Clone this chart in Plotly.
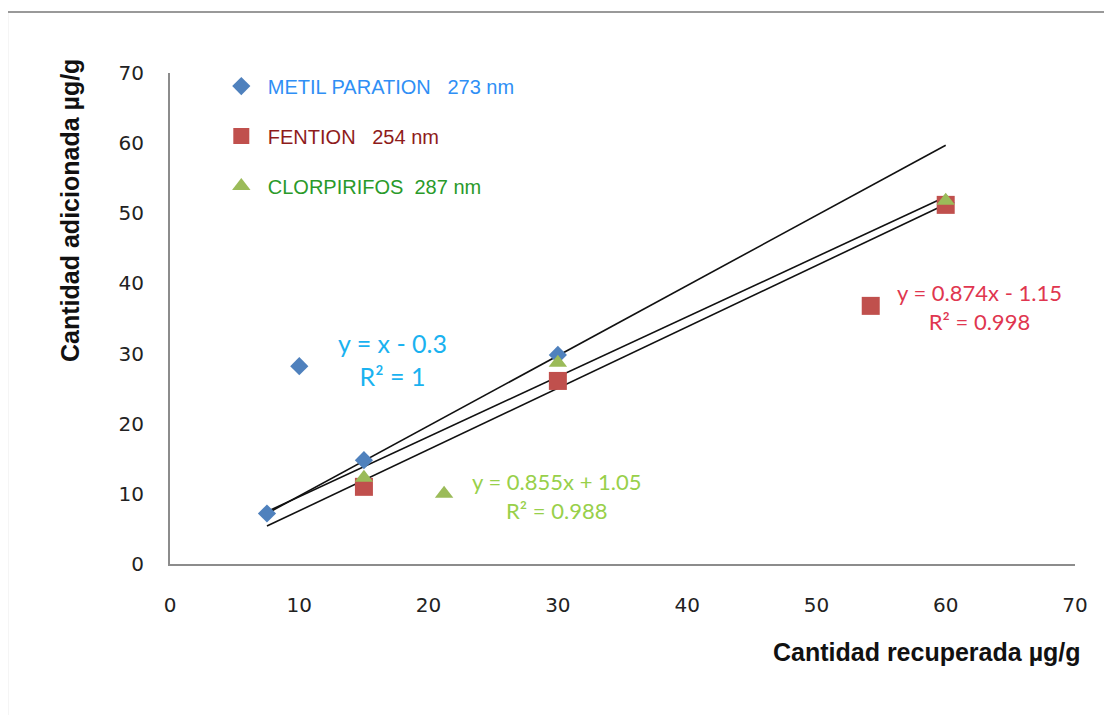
import numpy as np
import plotly.graph_objects as go

# Data
metil_x = [7.5, 10, 15, 30, 60]
metil_y = [7.2, 28.2, 14.8, 29.8, 51.5]
fention_x = [15, 30, 54.2, 60]
fention_y = [11.0, 26.1, 36.8, 51.2]
clor_x = [15, 21.2, 30, 60]
clor_y = [12.3, 10.0, 28.7, 51.8]

# trendline coefficients (slope, intercept) and fit range
trend_slopes = [1.0, 0.874, 0.855]
trend_intercepts = [-0.3, -1.15, 1.05]
trend_range = [7.5, 60]

series_names = ["METIL PARATION   273 nm", "FENTION   254 nm", "CLORPIRIFOS  287 nm"]
eq_texts = ["y = x - 0.3<br>R² = 1", "y = 0.874x - 1.15<br>R² = 0.998", "y = 0.855x + 1.05<br>R² = 0.988"]

marker_colors = ["#4f81bd", "#c0504d", "#9bbb59"]
legend_text_colors = ["#2f8ff5", "#8e1b1b", "#2a9a2a"]
eq_colors = ["#1ab2f0", "#e0364f", "#98d04a"]

fig = go.Figure()

# trendlines
for m, b in zip(trend_slopes, trend_intercepts):
    xs = np.array(trend_range, dtype=float)
    fig.add_trace(go.Scatter(x=xs, y=m * xs + b, mode="lines",
                             line=dict(color="#111111", width=1.6),
                             showlegend=False, hoverinfo="skip"))

data = [(metil_x, metil_y, "diamond", 14), (fention_x, fention_y, "square", 18), (clor_x, clor_y, "triangle-up", 16)]
for i, (xs, ys, sym, sz) in enumerate(data):
    fig.add_trace(go.Scatter(
        x=xs, y=ys, mode="markers",
        marker=dict(symbol=sym, size=sz, color=marker_colors[i], line=dict(width=0)),
        name=f"<span style='color:{legend_text_colors[i]}'>{series_names[i]}</span>",
        legendgroup=f"g{i}", legendrank=i,
    ))

# equation annotations
eq_pos = [(17.2, 29.2, 25), (62.6, 36.7, 22), (29.9, 9.7, 22)]
for (ex, ey, fs), t, c in zip(eq_pos, eq_texts, eq_colors):
    fig.add_annotation(x=ex, y=ey, text=t, showarrow=False, xanchor="center", yanchor="middle",
                       font=dict(family="Lato, Liberation Sans, sans-serif", size=fs, color=c),
                       align="center")

# axis titles as annotations
fig.add_annotation(x=-0.11, y=0.72, xref="paper", yref="paper", text="<b>Cantidad adicionada µg/g</b>",
                   textangle=-90, showarrow=False, xanchor="center", yanchor="middle",
                   font=dict(family="Liberation Sans, Arial, sans-serif", size=25, color="#111111"))
fig.add_annotation(x=1.009, y=-0.18, xref="paper", yref="paper", text="<b>Cantidad recuperada µg/g</b>",
                   showarrow=False, xanchor="right", yanchor="middle",
                   font=dict(family="Liberation Sans, Arial, sans-serif", size=25, color="#111111"))

# outer frame
fig.add_shape(type="rect", xref="paper", yref="paper", x0=-0.18, x1=1.3, y0=-0.6, y1=1.124,
              line=dict(color="#999999", width=2), fillcolor="rgba(0,0,0,0)", layer="below")

fig.update_xaxes(range=[0, 70], tickvals=list(range(0, 71, 10)), showgrid=False, zeroline=False,
                 showline=True, linecolor="#8c8c8c", linewidth=2, ticks="", ticklabelstandoff=22,
                 tickfont=dict(family="DejaVu Sans, Verdana, sans-serif", size=20, color="#222222"))
fig.update_yaxes(range=[0, 70], tickvals=list(range(0, 71, 10)), showgrid=False, zeroline=False,
                 showline=True, linecolor="#8c8c8c", linewidth=2, ticks="", ticklabelstandoff=20,
                 tickfont=dict(family="DejaVu Sans, Verdana, sans-serif", size=20, color="#222222"))

fig.update_layout(
    width=1112, height=715,
    margin=dict(l=162, r=45, t=65, b=159),
    paper_bgcolor="white", plot_bgcolor="white",
    legend=dict(x=0.0495, y=1.013, xanchor="left", yanchor="top", tracegroupgap=21,
                itemwidth=43, bgcolor="rgba(0,0,0,0)",
                font=dict(family="Liberation Sans, Arial, sans-serif", size=20)),
)

fig.write_html("out.html")
